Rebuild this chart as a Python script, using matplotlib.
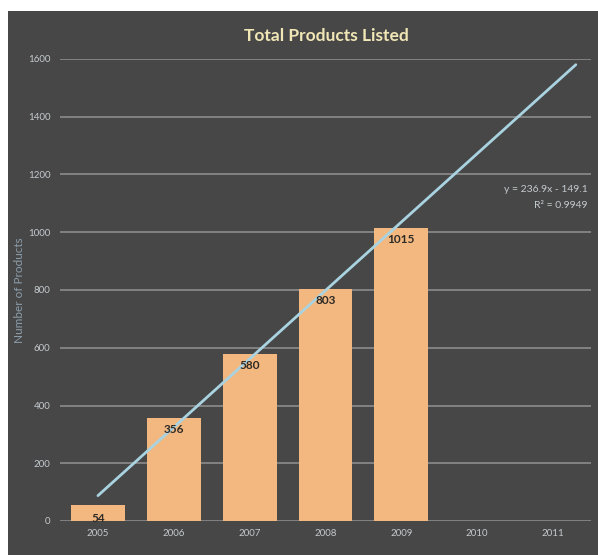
import matplotlib
matplotlib.use("Agg")
import matplotlib.pyplot as plt
from matplotlib.patches import Rectangle
import numpy as np

# data
years = ["2005", "2006", "2007", "2008", "2009", "2010", "2011"]
products = [54, 356, 580, 803, 1015]
labels = ["54", "356", "580", "803", "1015"]
slope = 236.9
intercept = -149.1
r2 = 0.9949
yticks = [0, 200, 400, 600, 800, 1000, 1200, 1400, 1600]

plt.rcParams['font.family'] = ['Lato', 'DejaVu Sans']

bg = "#474747"
W, H = 598, 555
fig = plt.figure(figsize=(W / 100, H / 100), dpi=100)
fig.patch.set_facecolor("white")
fig.add_artist(Rectangle((8 / W, 0), 1, 1 - 11 / H, transform=fig.transFigure,
                         facecolor=bg, edgecolor="none", zorder=-10))

ax = fig.add_axes([60 / W, 1 - 521 / H, (591 - 60) / W, (521 - 59) / H])
ax.set_facecolor(bg)

x = np.arange(len(years))
xb = x[:len(products)]
ax.bar(xb, products, width=0.71, color="#f2b880", zorder=2)

#Data labels near top of each bar
for xi, v, t in zip(xb, products, labels):
    ypos = v - 40 if v > 100 else 8
    ax.text(xi, ypos, t, ha="center", va="center", fontsize=8.5, fontweight="bold",
            color="#2e2a26", zorder=4)

#Linear trendline, forward a bit past the last year
tx = np.array([1.0, 7.3])
ax.plot(tx - 1, slope * tx + intercept, color="#a9d3e0", lw=2, zorder=3,
        solid_capstyle="round")

ax.set_xlim(-0.5, 6.5)
ax.set_ylim(0, 1600)
ax.set_yticks(yticks)
ax.set_xticks(x)
ax.set_xticklabels(years)
ax.grid(axis="y", color="#8c8c8c", lw=1.2, zorder=1)
ax.set_axisbelow(True)
for s in ax.spines.values():
    s.set_visible(False)
ax.tick_params(length=0, colors="#c4cacd", labelsize=7)
ax.tick_params(axis="y", pad=7)
ax.tick_params(axis="x", pad=6)

fig.text(326 / W, 1 - 36 / H, "Total Products Listed", ha="center", va="center",
         fontsize=12.5, fontweight="bold", color="#f0e6b6")
fig.text(20 / W, 1 - 290 / H, "Number of Products", rotation=90, ha="center",
         va="center", fontsize=8.5, color="#8c9eab")
fig.text(588 / W, 1 - 189 / H, "y = %.1fx - %.1f" % (slope, -intercept), ha="right",
         va="center", fontsize=7.5, color="#c4cacd")
fig.text(588 / W, 1 - 206 / H, "R² = %.4f" % r2, ha="right", va="center",
         fontsize=7.5, color="#c4cacd")

fig.savefig("out.png", dpi=100, facecolor=fig.get_facecolor())
